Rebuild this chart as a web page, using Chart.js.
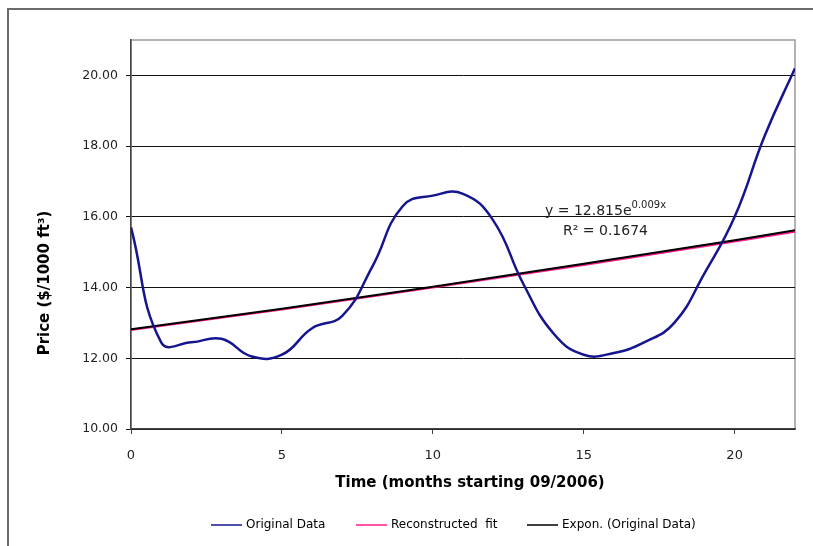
<!DOCTYPE html>
<html>
<head>
<meta charset="utf-8">
<script src="https://cdn.jsdelivr.net/npm/chart.js@4.4.1/dist/chart.umd.min.js"></script>
<style>
  html, body { margin: 0; padding: 0; background: #fff; }
  #wrap { width: 813px; height: 546px; }
</style>
</head>
<body>
<div id="wrap"><canvas id="c"></canvas></div>
<script>
// months since 09/2006
const months = [0,1,2,3,4,5,6,7,8,9,10,11,12,13,14,15,16,17,18,19,20,21,22];
const price  = [15.7,12.45,12.45,12.55,12.05,12.1,12.85,13.2,14.6,16.3,16.6,16.65,15.9,14.1,12.7,12.1,12.15,12.45,13.0,14.4,16.0,18.3,20.2];

// trend lines
const trendX      = [0, 5, 10, 15, 20, 22];
const expTrend    = [12.82, 13.40, 14.02, 14.67, 15.34, 15.62];
const reconFit    = [12.80, 13.38, 14.00, 14.64, 15.30, 15.58];

const xTicks = [0, 5, 10, 15, 20];
const yTicks = [10, 12, 14, 16, 18, 20];

const FONT = 'DejaVu Sans, Verdana, sans-serif';

const pts = (xs, ys) => xs.map((x, i) => ({ x: x, y: ys[i] }));

// legend drawn by hand so it sits where the original one does
const legendX = [211, 356, 527];

const decor = {
  id: 'decor',
  beforeDraw(chart) {
    const ctx = chart.ctx, a = chart.chartArea;
    ctx.save();
    ctx.strokeStyle = '#6b6b6b';
    ctx.lineWidth = 2;
    ctx.strokeRect(8, 9, 900, 900);
    ctx.strokeStyle = '#9a9a9a';
    ctx.lineWidth = 1.5;
    ctx.strokeRect(a.left, a.top, a.right - a.left, a.bottom - a.top);
    ctx.restore();
  },
  afterDraw(chart) {
    const ctx = chart.ctx;
    ctx.save();
    ctx.fillStyle = '#000';
    ctx.font = 'bold 15px ' + FONT;
    ctx.textAlign = 'center';
    ctx.textBaseline = 'middle';
    ctx.fillText('Time (months starting 09/2006)', 470, 483);
    ctx.translate(45, 283);
    ctx.rotate(-Math.PI / 2);
    ctx.fillText('Price ($/1000 ft\u00B3)', 0, 0);
    ctx.restore();

    ctx.save();
    ctx.fillStyle = '#222';
    ctx.textBaseline = 'alphabetic';
    ctx.textAlign = 'left';
    ctx.font = '14px ' + FONT;
    const s = 'y = 12.815e';
    ctx.fillText(s, 545, 215);
    const w = ctx.measureText(s).width;
    ctx.font = '10px ' + FONT;
    ctx.fillText('0.009x', 545 + w, 208);
    ctx.font = '14px ' + FONT;
    ctx.fillText('R\u00B2 = 0.1674', 563, 235);
    ctx.restore();

    ctx.save();
    ctx.font = '12px ' + FONT;
    ctx.textBaseline = 'middle';
    ctx.fillStyle = '#000';
    chart.data.datasets.forEach((ds, i) => {
      const x0 = legendX[i];
      ctx.strokeStyle = ds.borderColor;
      ctx.lineWidth = 1.5;
      ctx.beginPath();
      ctx.moveTo(x0, 525);
      ctx.lineTo(x0 + 31, 525);
      ctx.stroke();
      ctx.fillText(ds.label, x0 + 35, 525);
    });
    ctx.restore();
  }
};

new Chart(document.getElementById('c'), {
  type: 'line',
  data: {
    datasets: [
      {
        label: 'Original Data',
        data: pts(months, price),
        borderColor: '#15158f',
        borderWidth: 2.5,
        tension: 0.45,
        pointRadius: 0,
        order: 0
      },
      {
        label: 'Reconstructed  fit',
        data: pts(trendX, reconFit),
        borderColor: '#ff1c8c',
        borderWidth: 2,
        tension: 0,
        pointRadius: 0,
        order: 2
      },
      {
        label: 'Expon. (Original Data)',
        data: pts(trendX, expTrend),
        borderColor: '#000',
        borderWidth: 2,
        tension: 0,
        pointRadius: 0,
        order: 1
      }
    ]
  },
  options: {
    responsive: true,
    maintainAspectRatio: false,
    animation: false,
    layout: { padding: { left: 0, top: 40, right: 18, bottom: 55 } },
    plugins: {
      legend: { display: false },
      tooltip: { enabled: false }
    },
    scales: {
      x: {
        type: 'linear',
        min: 0,
        max: 22,
        afterBuildTicks: s => { s.ticks = xTicks.map(v => ({ value: v })); },
        afterFit: s => { s.height = 62; },
        grid: { drawOnChartArea: false, drawTicks: true, tickLength: 5, color: '#444' },
        border: { color: '#444', width: 1.5 },
        ticks: { font: { family: FONT, size: 13 }, color: '#222', padding: 14, maxRotation: 0 }
      },
      y: {
        min: 10,
        max: 21,
        afterBuildTicks: s => { s.ticks = yTicks.map(v => ({ value: v })); },
        afterFit: s => { s.width = 131; },
        grid: { color: '#111', lineWidth: 1, tickLength: 5 },
        border: { color: '#444', width: 1.5 },
        ticks: {
          font: { family: FONT, size: 12.5 },
          color: '#222',
          padding: 8,
          callback: v => v.toFixed(2)
        }
      }
    }
  },
  plugins: [decor]
});
</script>
</body>
</html>
